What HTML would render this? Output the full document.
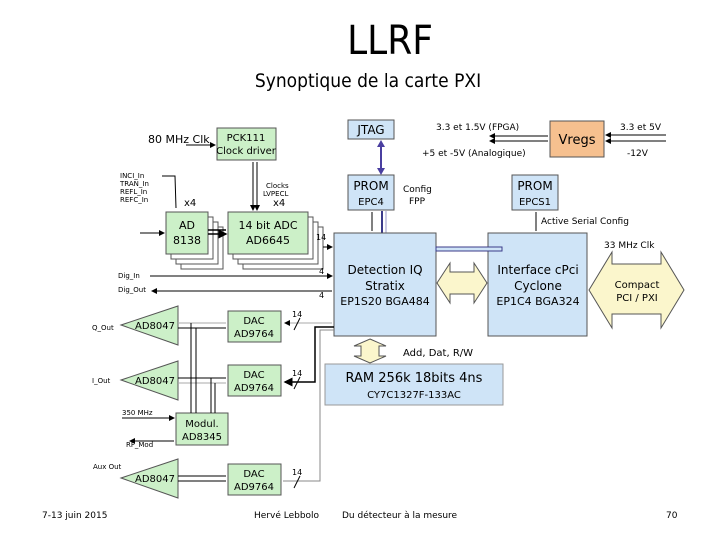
<!DOCTYPE html>
<html><head><meta charset="utf-8"><style>
html,body{margin:0;padding:0;background:#fff;width:720px;height:540px;overflow:hidden}
svg{display:block}
text{font-family:"DejaVu Sans","Liberation Sans",sans-serif}
</style></head><body>
<svg width="720" height="540" viewBox="0 0 720 540" xmlns="http://www.w3.org/2000/svg">
<defs>
<marker id="a" markerWidth="6" markerHeight="6" refX="5" refY="3" orient="auto"><path d="M0,0 L6,3 L0,6z" fill="#000"/></marker>
</defs>
<text x="390" y="54" font-size="40" text-anchor="middle" style="font-family:'DejaVu Sans Condensed','DejaVu Sans',sans-serif">LLRF</text>
<text x="368" y="87" font-size="19" text-anchor="middle" style="font-family:'DejaVu Sans Condensed','DejaVu Sans',sans-serif">Synoptique de la carte PXI</text>

<g font-size="10">
<text x="148" y="143" font-size="11">80 MHz Clk</text>
<line x1="186" y1="145" x2="215" y2="145" stroke="#000" marker-end="url(#a)"/>
<rect x="217" y="128" width="59" height="32" fill="#ccf0c8" stroke="#555"/>
<text x="246" y="141" text-anchor="middle">PCK111</text>
<text x="246" y="154" text-anchor="middle">Clock driver</text>
<line x1="253" y1="162" x2="253" y2="210" stroke="#000" marker-end="url(#a)"/>
<line x1="257" y1="162" x2="257" y2="210" stroke="#000" marker-end="url(#a)"/>
<text x="266" y="188" font-size="7">Clocks</text><text x="263" y="196" font-size="7">LVPECL</text>
<text x="273" y="206" font-size="10">x4</text>
<text x="120" y="178" font-size="7">INCI_In</text><text x="120" y="186" font-size="7">TRAN_In</text>
<text x="120" y="194" font-size="7">REFL_In</text><text x="120" y="202" font-size="7">REFC_In</text>
<polyline points="162,176 175,176 176,208" fill="none" stroke="#000"/>
<text x="184" y="206">x4</text>
<g fill="#fff" stroke="#555">
<rect x="181" y="227" width="42" height="42"/><rect x="176" y="222" width="42" height="42"/><rect x="171" y="217" width="42" height="42"/>
<rect x="166" y="212" width="42" height="42" fill="#ccf0c8"/>
<rect x="243" y="227" width="80" height="42"/><rect x="238" y="222" width="80" height="42"/><rect x="233" y="217" width="80" height="42"/>
<rect x="228" y="212" width="80" height="42" fill="#ccf0c8"/>
</g>
<text x="187" y="229" text-anchor="middle" font-size="11">AD</text><text x="187" y="244" text-anchor="middle" font-size="11">8138</text>
<text x="268" y="229" text-anchor="middle" font-size="11">14 bit ADC</text><text x="268" y="244" text-anchor="middle" font-size="11">AD6645</text>
<line x1="140" y1="233" x2="164" y2="233" stroke="#000" marker-end="url(#a)"/>
<line x1="208" y1="230" x2="226" y2="230" stroke="#000" stroke-width="1.5"/>
<line x1="208" y1="234" x2="226" y2="234" stroke="#000" stroke-width="1.5" marker-end="url(#a)"/>
<line x1="323" y1="247" x2="332" y2="247" stroke="#000" marker-end="url(#a)"/>
<text x="316" y="240" font-size="8">14</text>
<text x="118" y="278" font-size="7">Dig_In</text><text x="118" y="292" font-size="7">Dig_Out</text>
<line x1="150" y1="276" x2="332" y2="276" stroke="#000" marker-end="url(#a)"/>
<line x1="332" y1="291" x2="152" y2="291" stroke="#000" marker-end="url(#a)"/>
<text x="319" y="274" font-size="8">4</text><text x="319" y="298" font-size="8">4</text>

<rect x="348" y="120" width="46" height="19" fill="#cfe4f7" stroke="#555"/>
<text x="371" y="134" text-anchor="middle" font-size="12">JTAG</text>
<line x1="381" y1="143" x2="381" y2="172" stroke="#4a3fa0" stroke-width="2"/>
<path d="M377,147 L381,140 L385,147z M377,168 L381,175 L385,168z" fill="#4a3fa0"/>
<rect x="348" y="175" width="46" height="35" fill="#cfe4f7" stroke="#555"/>
<text x="371" y="190" text-anchor="middle" font-size="12">PROM</text><text x="371" y="205" text-anchor="middle">EPC4</text>
<text x="403" y="192" font-size="9">Config</text><text x="409" y="204" font-size="9">FPP</text>
<line x1="372" y1="212" x2="372" y2="231" stroke="#000"/>
<line x1="382" y1="211" x2="382" y2="233" stroke="#3b3b8a" stroke-width="2"/>
<line x1="386" y1="211" x2="386" y2="233" stroke="#9a9ac8" stroke-width="1"/>
<text x="436" y="130" font-size="9">3.3 et 1.5V (FPGA)</text>
<text x="422" y="156" font-size="9">+5 et -5V (Analogique)</text>
<line x1="548" y1="136" x2="490" y2="136" stroke="#000" marker-end="url(#a)"/>
<line x1="548" y1="141" x2="490" y2="141" stroke="#000" marker-end="url(#a)"/>
<rect x="550" y="121" width="54" height="36" fill="#f6c08f" stroke="#555"/>
<text x="577" y="144" text-anchor="middle" font-size="13">Vregs</text>
<text x="620" y="130" font-size="9">3.3 et 5V</text><text x="627" y="156" font-size="9">-12V</text>
<line x1="666" y1="135" x2="606" y2="135" stroke="#000" marker-end="url(#a)"/>
<line x1="666" y1="141" x2="606" y2="141" stroke="#000" marker-end="url(#a)"/>
<rect x="512" y="175" width="46" height="35" fill="#cfe4f7" stroke="#555"/>
<text x="535" y="190" text-anchor="middle" font-size="12">PROM</text><text x="535" y="205" text-anchor="middle">EPCS1</text>
<line x1="536" y1="212" x2="536" y2="231" stroke="#000"/>
<text x="541" y="224" font-size="9">Active Serial Config</text>
<text x="604" y="248" font-size="9">33 MHz Clk</text>

<rect x="334" y="233" width="102" height="103" fill="#cfe4f7" stroke="#555"/>
<text x="385" y="274" text-anchor="middle" font-size="12">Detection IQ</text>
<text x="385" y="290" text-anchor="middle" font-size="12">Stratix</text>
<text x="385" y="305" text-anchor="middle" font-size="11">EP1S20 BGA484</text>
<rect x="488" y="233" width="99" height="103" fill="#cfe4f7" stroke="#555"/>
<text x="538" y="274" text-anchor="middle" font-size="12">Interface cPci</text>
<text x="538" y="290" text-anchor="middle" font-size="12">Cyclone</text>
<text x="538" y="305" text-anchor="middle" font-size="11">EP1C4 BGA324</text>
<rect x="436" y="247" width="66" height="4" fill="#cfe4f7" stroke="#3b3b8a"/>
<path d="M437,283 L450,263 L450,272 L474,272 L474,263 L487,283 L474,303 L474,294 L450,294 L450,303z" fill="#fbf6cc" stroke="#555"/>
<path d="M589,290 L612,252 L612,264 L661,264 L661,252 L684,290 L661,328 L661,314 L612,314 L612,328z" fill="#fbf6cc" stroke="#555"/>
<text x="637" y="288" text-anchor="middle" font-size="10">Compact</text>
<text x="637" y="301" text-anchor="middle" font-size="10">PCI / PXI</text>
<path d="M370,339 L386,346 L379,346 L379,356 L386,356 L370,363 L354,356 L361,356 L361,346 L354,346z" fill="#fbf6cc" stroke="#555"/>
<text x="403" y="356" font-size="10">Add, Dat, R/W</text>
<rect x="325" y="364" width="178" height="41" fill="#cfe4f7" stroke="#999"/>
<text x="414" y="382" text-anchor="middle" font-size="13">RAM 256k 18bits 4ns</text>
<text x="414" y="398" text-anchor="middle" font-size="10">CY7C1327F-133AC</text>

<g fill="#ccf0c8" stroke="#555">
<path d="M121,325 L178,306 L178,345z"/><path d="M121,380 L178,361 L178,400z"/><path d="M121,478 L178,459 L178,498z"/>
<rect x="228" y="311" width="53" height="31"/><rect x="228" y="365" width="53" height="31"/><rect x="228" y="464" width="53" height="31"/>
<rect x="176" y="413" width="52" height="32"/>
</g>
<g font-size="10">
<text x="155" y="329" text-anchor="middle">AD8047</text><text x="155" y="384" text-anchor="middle">AD8047</text><text x="155" y="482" text-anchor="middle">AD8047</text>
<text x="254" y="324" text-anchor="middle">DAC</text><text x="254" y="337" text-anchor="middle">AD9764</text>
<text x="254" y="378" text-anchor="middle">DAC</text><text x="254" y="391" text-anchor="middle">AD9764</text>
<text x="254" y="477" text-anchor="middle">DAC</text><text x="254" y="490" text-anchor="middle">AD9764</text>
<text x="202" y="427" text-anchor="middle">Modul.</text><text x="202" y="440" text-anchor="middle">AD8345</text>
</g>
<g font-size="7"><text x="92" y="330">Q_Out</text><text x="92" y="383">I_Out</text><text x="122" y="415">350 MHz</text><text x="126" y="447">RF_Mod</text><text x="93" y="469">Aux Out</text></g>
<g stroke="#000" fill="none">
<line x1="178" y1="323" x2="226" y2="323" stroke="#aaa"/><line x1="178" y1="328" x2="226" y2="328"/>
<line x1="178" y1="378" x2="226" y2="378"/><line x1="178" y1="383" x2="226" y2="383" stroke="#aaa"/>
<line x1="178" y1="476" x2="226" y2="476"/><line x1="178" y1="481" x2="226" y2="481"/>
<line x1="191" y1="323" x2="191" y2="413"/><line x1="196" y1="328" x2="196" y2="413"/>
<line x1="211" y1="378" x2="211" y2="413"/><line x1="215" y1="383" x2="215" y2="413"/>
<line x1="122" y1="418" x2="174" y2="418" marker-end="url(#a)"/>
<line x1="174" y1="441" x2="130" y2="441" marker-end="url(#a)"/>
<line x1="332" y1="323" x2="285" y2="323" stroke="#aaa" marker-end="url(#a)"/>
<polyline points="334,327 315,327 315,382 285,382" stroke-width="1.5" marker-end="url(#a)"/>
<polyline points="334,330 320,330 320,481 283,481" stroke="#888"/>
<line x1="294" y1="330" x2="300" y2="318"/><line x1="294" y1="389" x2="300" y2="377"/><line x1="294" y1="488" x2="300" y2="476"/>
</g>
<g font-size="8"><text x="292" y="317">14</text><text x="292" y="376">14</text><text x="292" y="475">14</text></g>
</g>

<g font-size="9" style="font-family:'DejaVu Sans Condensed','DejaVu Sans',sans-serif">
<text x="42" y="518">7-13 juin 2015</text>
<text x="254" y="518">Hervé Lebbolo</text>
<text x="342" y="518">Du détecteur à la mesure</text>
<text x="666" y="518">70</text>
</g>
</svg>
</body></html>
